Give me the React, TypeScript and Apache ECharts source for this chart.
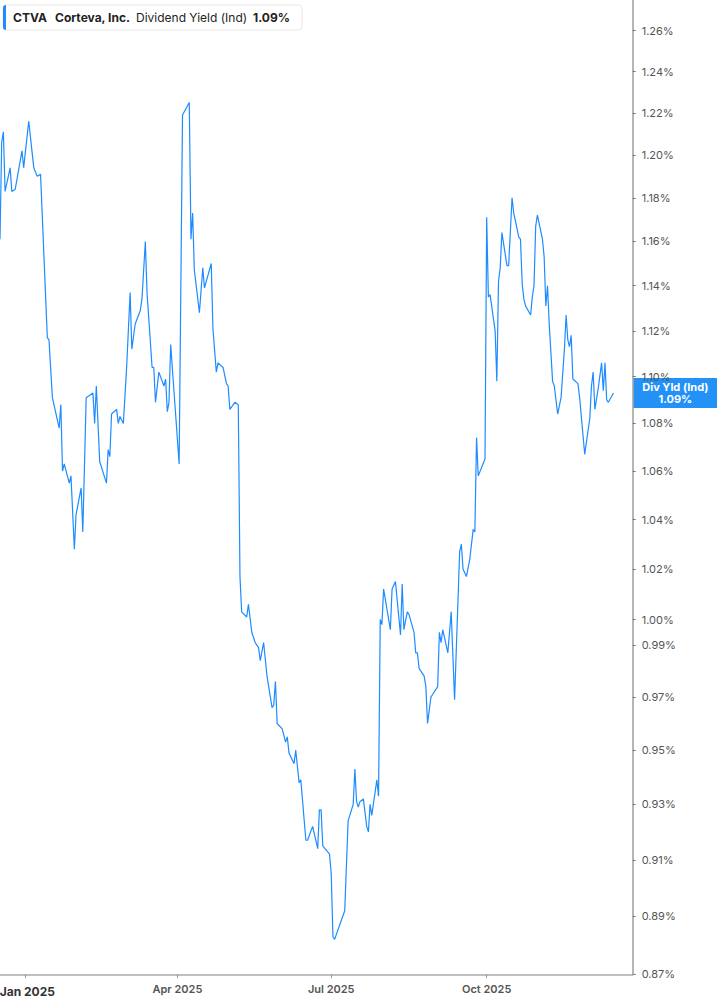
import React, { useEffect, useRef } from "react";
import * as echarts from "echarts";

const dates = [
  "2024-12-17","2024-12-18","2024-12-19","2024-12-20","2024-12-23","2024-12-24","2024-12-26","2024-12-30","2024-12-31",
  "2025-01-03","2025-01-06","2025-01-08","2025-01-10","2025-01-14","2025-01-15","2025-01-17","2025-01-21","2025-01-22","2025-01-23","2025-01-24","2025-01-27","2025-01-28","2025-01-30","2025-01-31",
  "2025-02-03","2025-02-04","2025-02-06","2025-02-10","2025-02-11","2025-02-12","2025-02-14","2025-02-18","2025-02-19","2025-02-20","2025-02-21","2025-02-24","2025-02-25","2025-02-26","2025-02-28",
  "2025-03-02","2025-03-04","2025-03-05","2025-03-07","2025-03-10","2025-03-11","2025-03-13","2025-03-14","2025-03-17","2025-03-18","2025-03-19","2025-03-21","2025-03-24","2025-03-25","2025-03-26","2025-03-27","2025-03-28",
  "2025-04-02","2025-04-04","2025-04-08","2025-04-09","2025-04-10","2025-04-11","2025-04-14","2025-04-16","2025-04-17","2025-04-21","2025-04-22","2025-04-24","2025-04-25","2025-04-28","2025-04-30",
  "2025-05-01","2025-05-02","2025-05-05","2025-05-07","2025-05-08","2025-05-09","2025-05-12","2025-05-13","2025-05-15","2025-05-17","2025-05-19","2025-05-20","2025-05-22","2025-05-24","2025-05-27","2025-05-28","2025-05-29","2025-05-30",
  "2025-06-02","2025-06-04","2025-06-05","2025-06-06","2025-06-09","2025-06-10","2025-06-12","2025-06-13","2025-06-16","2025-06-17","2025-06-20","2025-06-23","2025-06-24","2025-06-25","2025-06-26","2025-06-30",
  "2025-07-01","2025-07-02","2025-07-03","2025-07-09","2025-07-11","2025-07-14","2025-07-15","2025-07-16","2025-07-17","2025-07-18","2025-07-20","2025-07-22","2025-07-23","2025-07-24","2025-07-25","2025-07-28","2025-07-29","2025-07-30","2025-07-31",
  "2025-08-01","2025-08-05","2025-08-06","2025-08-08","2025-08-11","2025-08-12","2025-08-13","2025-08-15","2025-08-16","2025-08-19","2025-08-20","2025-08-21","2025-08-22","2025-08-25","2025-08-26","2025-08-27","2025-08-29","2025-08-30",
  "2025-09-02","2025-09-03","2025-09-04","2025-09-05","2025-09-08","2025-09-10","2025-09-12","2025-09-15","2025-09-16","2025-09-17","2025-09-19","2025-09-21","2025-09-23","2025-09-24","2025-09-25","2025-09-26","2025-09-30",
  "2025-10-01","2025-10-02","2025-10-03","2025-10-06","2025-10-07","2025-10-08","2025-10-09","2025-10-10","2025-10-13","2025-10-14","2025-10-16","2025-10-17","2025-10-20","2025-10-21","2025-10-22","2025-10-23","2025-10-24","2025-10-27","2025-10-28","2025-10-29","2025-10-30","2025-10-31",
  "2025-11-03","2025-11-04","2025-11-05","2025-11-06","2025-11-07","2025-11-09","2025-11-10","2025-11-12","2025-11-14","2025-11-16","2025-11-17","2025-11-18","2025-11-19","2025-11-20","2025-11-21","2025-11-24","2025-11-25","2025-11-28",
  "2025-12-01","2025-12-02","2025-12-03","2025-12-04","2025-12-06","2025-12-08","2025-12-09","2025-12-10","2025-12-11","2025-12-12","2025-12-15"
];

const yieldValues = [
  1.161,1.206,1.211,1.183,1.194,1.183,1.184,1.202,1.194,
  1.216,1.194,1.190,1.191,1.117,1.116,1.091,1.078,1.088,1.060,1.063,1.055,1.058,1.028,1.042,
  1.053,1.035,1.091,1.093,1.080,1.096,1.064,1.055,1.069,1.066,1.084,1.086,1.080,1.083,1.080,
  1.105,1.137,1.112,1.123,1.129,1.134,1.160,1.137,1.104,1.104,1.089,1.102,1.096,1.099,1.085,1.089,1.114,
  1.063,1.219,1.225,1.161,1.173,1.147,1.128,1.148,1.139,1.150,1.121,1.102,1.106,1.104,1.097,
  1.096,1.086,1.089,1.088,1.017,1.003,1.001,1.006,0.995,0.991,0.989,0.984,0.991,0.978,0.966,0.967,0.976,0.960,
  0.958,0.953,0.955,0.949,0.945,0.950,0.938,0.939,0.917,0.917,0.922,0.914,0.928,0.928,0.915,0.912,
  0.905,0.883,0.882,0.892,0.924,0.930,0.943,0.931,0.929,0.931,0.932,0.922,0.920,0.930,0.926,0.939,0.933,1.000,0.998,
  1.012,0.996,1.012,1.015,0.994,1.014,0.996,1.003,1.002,0.995,0.987,0.987,0.981,0.978,0.974,0.960,0.970,0.971,
  0.974,0.995,0.991,0.996,0.987,1.003,0.969,1.027,1.030,1.020,1.017,1.024,1.036,1.035,1.074,1.058,1.065,
  1.171,1.135,1.136,1.120,1.098,1.142,1.148,1.164,1.149,1.149,1.180,1.173,1.162,1.161,1.141,1.134,1.131,1.127,1.135,1.140,1.167,1.172,
  1.161,1.153,1.131,1.140,1.123,1.098,1.096,1.084,1.091,1.112,1.127,1.116,1.113,1.118,1.099,1.097,1.091,1.067,
  1.082,1.096,1.102,1.086,1.095,1.106,1.094,1.106,1.090,1.089,1.093
];

const yTicks = [0.87, 0.89, 0.91, 0.93, 0.95, 0.97, 0.99, 1.0, 1.02, 1.04, 1.06, 1.08, 1.1, 1.12, 1.14, 1.16, 1.18, 1.2, 1.22, 1.24, 1.26];
const xTickDates = ["2025-01-01", "2025-04-01", "2025-07-01", "2025-10-01"];
const monthNames = ["Jan", "Feb", "Mar", "Apr", "May", "Jun", "Jul", "Aug", "Sep", "Oct", "Nov", "Dec"];

const ticker = "CTVA";
const company = "Corteva, Inc.";
const metric = "Dividend Yield (Ind)";
const axisTagTitle = "Div Yld (Ind)";

const DAY = 86400000;
const FONT = "Inter, 'Noto Sans', sans-serif";
const LINE_COLOR = "#1e8cff";

function ts(d: string) {
  return Date.parse(d + "T00:00:00Z");
}

export default function App() {
  const ref = useRef<HTMLDivElement>(null);

  useEffect(() => {
    if (!ref.current) return;
    const chart = echarts.init(ref.current, undefined, { renderer: "svg" });
    const data = dates.map((d, i) => [ts(d), Math.log(yieldValues[i])]);
    const last = yieldValues[yieldValues.length - 1];
    const lastText = last.toFixed(2) + "%";
    const jan1 = ts("2025-01-01");
    const xMax = jan1 + 359.4 * DAY;

    chart.setOption({
      animation: false,
      backgroundColor: "#ffffff",
      grid: { left: 0, right: 84.3, top: 0, bottom: 30.7, containLabel: false, outerBoundsMode: "none" },
      xAxis: {
        type: "value",
        min: jan1 - 15 * DAY,
        max: xMax,
        splitLine: { show: false },
        axisLine: { show: true, onZero: false, lineStyle: { color: "#aaaaaa", width: 1.5 } },
        axisTick: {
          show: true,
          customValues: xTickDates.map(ts),
          length: 4,
          lineStyle: { color: "#999999", width: 1 },
        },
        axisLabel: {
          customValues: xTickDates.map(ts),
          margin: 9,
          color: "#555555",
          fontFamily: FONT,
          fontSize: 11,
          fontWeight: 600,
          formatter: (v: number) => {
            const dt = new Date(v);
            const m = dt.getUTCMonth();
            const s = monthNames[m] + " " + dt.getUTCFullYear();
            return m === 0 ? "{b|" + s + "}" : s;
          },
          rich: {
            b: { fontFamily: FONT, fontSize: 12, fontWeight: 700, color: "#333333", padding: [2, 0, 0, 4] },
          },
        },
      },
      yAxis: {
        type: "value",
        position: "right",
        min: Math.log(0.87),
        max: Math.log(1.2753),
        splitLine: { show: false },
        axisLine: { show: true, onZero: false, lineStyle: { color: "#9e9e9e", width: 1.5 } },
        axisTick: {
          show: true,
          customValues: yTicks.map((t) => Math.log(t)),
          length: 3,
          lineStyle: { color: "#777777" },
        },
        axisLabel: {
          customValues: yTicks.map((t) => Math.log(t)),
          margin: 9,
          color: "#555555",
          fontFamily: FONT,
          fontSize: 11,
          formatter: (v: number) => Math.exp(v).toFixed(2) + "%",
        },
      },
      series: [
        {
          type: "line",
          data,
          showSymbol: false,
          symbol: "none",
          lineStyle: { color: LINE_COLOR, width: 1.2 },
          clip: true,
        },
      ],
    });

    const yPix = chart.convertToPixel({ yAxisIndex: 0 }, Math.log(last)) as number;
    const xAxisPix = chart.convertToPixel({ xAxisIndex: 0 }, xMax) as number;
    const tagW = 717 - xAxisPix;

    chart.setOption({
      graphic: [
        {
          id: "legend",
          type: "group",
          x: 3,
          y: 5,
          children: [
            { type: "rect", shape: { x: 0, y: 0, width: 299, height: 25, r: 3 }, style: { fill: "#ffffff", stroke: "#e8e8e8", lineWidth: 1 } },
            { type: "rect", shape: { x: 0, y: 0, width: 3, height: 25, r: [3, 0, 0, 3] }, style: { fill: LINE_COLOR } },
            { type: "text", x: 10, y: 12.5, style: { text: ticker, fill: "#222222", font: "700 12px " + FONT, verticalAlign: "middle" } },
            { type: "text", x: 52, y: 12.5, style: { text: company, fill: "#222222", font: "700 12px " + FONT, verticalAlign: "middle" } },
            { type: "text", x: 133, y: 12.5, style: { text: metric, fill: "#222222", font: "400 12px " + FONT, verticalAlign: "middle" } },
            { type: "text", x: 250, y: 12.5, style: { text: lastText, fill: "#222222", font: "700 12px " + FONT, verticalAlign: "middle" } },
          ],
        },
        {
          id: "tag",
          type: "group",
          x: xAxisPix + 0.5,
          y: yPix - 15,
          children: [
            { type: "rect", shape: { x: 0, y: 0, width: tagW, height: 30 }, style: { fill: "#2491f7" } },
            { type: "text", x: tagW / 2, y: 9, style: { text: axisTagTitle, fill: "#ffffff", font: "700 11px " + FONT, align: "center", verticalAlign: "middle" } },
            { type: "text", x: tagW / 2, y: 21.5, style: { text: lastText, fill: "#ffffff", font: "700 11px " + FONT, align: "center", verticalAlign: "middle" } },
          ],
        },
      ],
    });

    return () => chart.dispose();
  }, []);

  return (
    <div
      ref={ref}
      style={{ position: "fixed", left: 0, top: 0, width: 717, height: 1005, background: "#fff" }}
    />
  );
}
